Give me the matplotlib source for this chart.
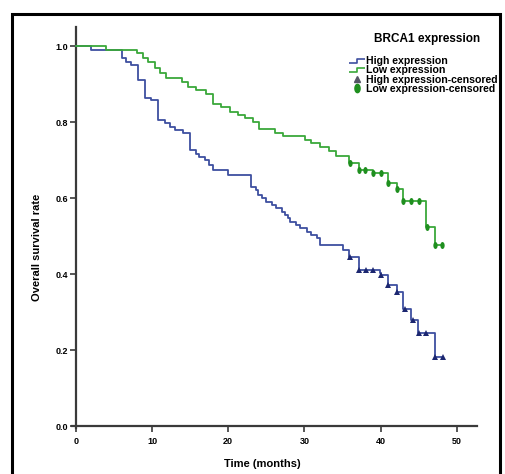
import numpy as np
import matplotlib
matplotlib.use('Agg')
import matplotlib.pyplot as plt
from matplotlib.lines import Line2D
from matplotlib.path import Path
from matplotlib.patches import Rectangle

plt.rcParams['font.family'] = ['Liberation Sans', 'DejaVu Sans']
plt.rcParams['font.weight'] = 'bold'

####################################################
# Kaplan-Meier curves (time of each drop, survival after it)
high_times = [0, 2.0, 6.0, 6.6, 7.3, 8.2, 9.1, 9.9, 10.8, 11.7, 12.4, 13.0, 14.1, 15.0, 15.8, 16.2,
              16.9, 17.5, 18.0, 20.0, 23.0, 23.7, 23.9, 24.4, 25.0, 25.8, 26.3, 27.0, 27.4, 27.8,
              28.1, 28.9, 29.4, 30.3, 30.9, 31.7, 32.0, 35.1, 35.9, 37.1, 39.9, 40.1, 41.0, 42.1,
              43.0, 44.0, 44.9, 47.1]
high_surv = [1.0, 0.99, 0.968, 0.959, 0.95, 0.91, 0.862, 0.857, 0.805, 0.797, 0.788, 0.78, 0.771, 0.726,
             0.717, 0.709, 0.70, 0.687, 0.674, 0.66, 0.63, 0.62, 0.608, 0.60, 0.59, 0.582, 0.573, 0.564,
             0.555, 0.547, 0.538, 0.529, 0.52, 0.511, 0.503, 0.494, 0.476, 0.463, 0.446, 0.411, 0.404,
             0.397, 0.37, 0.352, 0.307, 0.279, 0.244, 0.182]
high_censored = [36.0, 37.1, 38.1, 39.0, 40.1, 41.0, 42.1, 43.2, 44.3, 45.1, 46.0, 47.1, 48.2]

low_times = [0, 4.0, 8.0, 8.8, 9.5, 10.4, 11.0, 11.9, 13.9, 14.7, 15.8, 17.1, 18.0, 19.1, 20.2, 21.3,
             22.2, 23.3, 24.1, 26.1, 27.2, 30.1, 30.9, 32.0, 33.2, 34.2, 35.9, 37.1, 39.0, 41.0, 42.1,
             43.0, 46.0, 47.1]
low_surv = [1.0, 0.99, 0.981, 0.968, 0.959, 0.941, 0.928, 0.915, 0.906, 0.893, 0.884, 0.874, 0.847,
            0.84, 0.827, 0.818, 0.81, 0.80, 0.781, 0.772, 0.762, 0.754, 0.745, 0.735, 0.724, 0.711,
            0.693, 0.674, 0.665, 0.639, 0.623, 0.593, 0.523, 0.476]
low_censored = [36.0, 37.1, 38.0, 39.0, 40.1, 41.0, 42.1, 43.0, 44.0, 45.1, 46.1, 47.1, 48.1]

x_ticks = [0, 10, 20, 30, 40, 50]
y_ticks = [0.0, 0.2, 0.4, 0.6, 0.8, 1.0]
####################################################

high_line = '#3e4fa0'
high_mark = '#1c2770'
low_line = '#3aa83a'
low_mark = '#1f8f1f'

# tall oval marker used by SPSS for censored cases
theta = np.linspace(0, 2 * np.pi, 40)
oval = np.column_stack([0.62 * np.cos(theta), np.sin(theta)])


def km_value(times, surv, t):
    # survival level in force at time t (post-step)
    i = np.searchsorted(times, t, side='right') - 1
    return np.asarray(surv)[i]


fig = plt.figure(figsize=(5.05, 4.74), dpi=100)
ax = fig.add_axes([72 / 505, 1 - 428 / 474, 405 / 505, 401 / 474])

for times, surv, cens, lc, mc, mk, ms in [
        (high_times, high_surv, high_censored, high_line, high_mark, '^', 4),
        (low_times, low_surv, low_censored, low_line, low_mark, oval, 5)]:
    x = list(times) + [max(cens)]
    y = list(surv) + [surv[-1]]
    ax.step(x, y, where='post', color=lc, lw=1.3, zorder=3)
    cy = [km_value(times, surv, c) for c in cens]
    ax.plot(cens, cy, linestyle='none', marker=mk, markersize=ms, color=mc,
            markeredgewidth=0, zorder=4)

ax.set_xlim(-0.5, 52.65)
ax.set_ylim(-0.005, 1.05)
ax.spines['left'].set_position(('data', 0))
ax.spines['bottom'].set_position(('data', 0))
ax.spines['top'].set_visible(False)
ax.spines['right'].set_visible(False)
for s in ['left', 'bottom']:
    ax.spines[s].set_color('#3a3a3a')
    ax.spines[s].set_linewidth(1.6)

ax.set_xticks(x_ticks)
ax.set_yticks(y_ticks)
ax.set_yticklabels(['%.1f' % v for v in y_ticks])
ax.tick_params(direction='out', length=4, width=1.2, color='#3a3a3a', labelsize=6.5, pad=1.5)
ax.tick_params(axis='x', pad=3.5)

ax.set_xlabel('Time (months)', fontsize=8, fontweight='bold')
ax.set_ylabel('Overall survival rate', fontsize=8, fontweight='bold')
ax.xaxis.set_label_coords(0.469, -0.077)
ax.yaxis.set_label_coords(-0.075, 0.45)

# step-shaped icon for the line entries
step_icon = Path([(-1, -0.3), (0, -0.3), (0, 0.3), (1, 0.3)],
                 [Path.MOVETO, Path.LINETO, Path.LINETO, Path.LINETO])
handles = [
    Line2D([], [], linestyle='none', marker=step_icon, markersize=11, markerfacecolor='none',
           markeredgecolor=high_line, markeredgewidth=1.2),
    Line2D([], [], linestyle='none', marker=step_icon, markersize=11, markerfacecolor='none',
           markeredgecolor=low_line, markeredgewidth=1.2),
    Line2D([], [], linestyle='none', marker='^', markersize=5, color='#555566'),
    Line2D([], [], linestyle='none', marker=oval, markersize=6, color=low_mark),
]
labels = ['High expression', 'Low expression', 'High expression-censored', 'Low expression-censored']
fig.text(427 / 505, 1 - 39 / 474, 'BRCA1 expression', ha='center', va='center',
         fontsize=8.5, fontweight='bold')
leg = fig.legend(handles, labels, loc='upper left', bbox_to_anchor=(343 / 505, 1 - 50 / 474),
                 frameon=False, fontsize=7.6, labelspacing=-0.08, handletextpad=0.1,
                 handlelength=1.45, borderpad=0.1, numpoints=1)

# outer frame around the whole picture
fig.patches.append(Rectangle((12 / 505, -0.02), 488 / 505, 1.02 - 14 / 474,
                             transform=fig.transFigure, fill=False, edgecolor='black',
                             linewidth=2.2, zorder=10))

fig.savefig('out.png', dpi=100)
